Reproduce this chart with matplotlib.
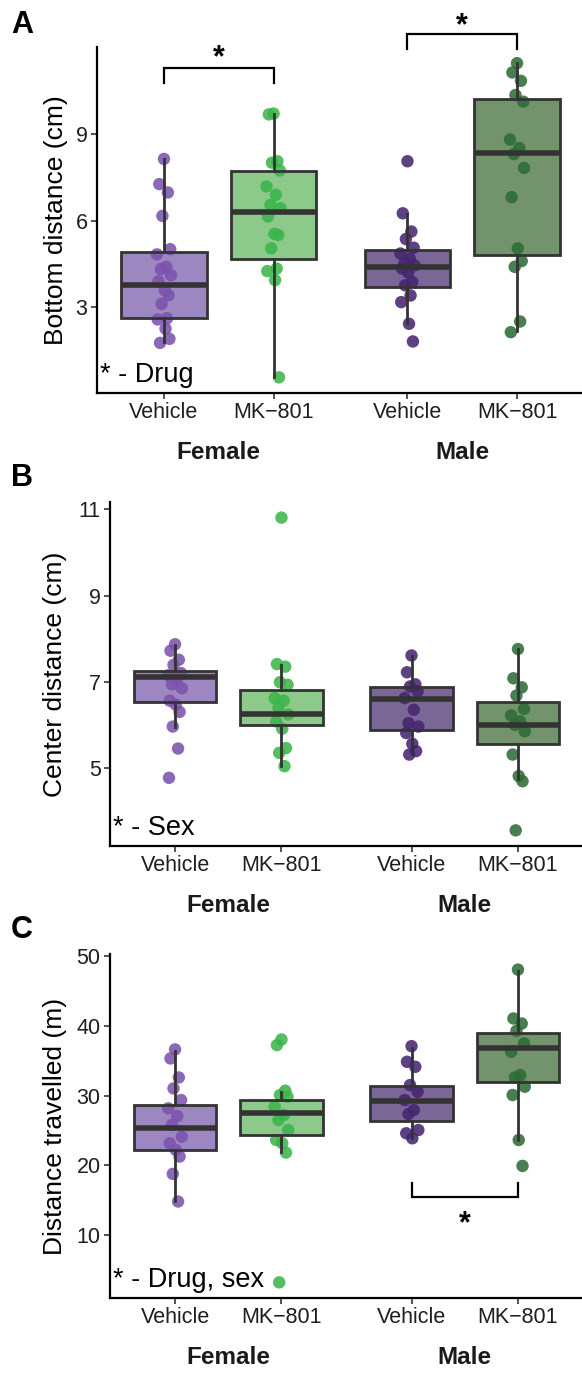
import matplotlib
matplotlib.use("Agg")
import matplotlib.pyplot as plt
import numpy as np

plt.rcParams['font.family'] = ['Liberation Sans', 'DejaVu Sans']

sexes = ["Female", "Male"]
drug_labels = ["Vehicle", "MK−801"]

# A: bottom distance (cm), groups: F-veh, F-MK, M-veh, M-MK
bottom_f_veh = [8.13, 7.26, 6.97, 6.16, 5.01, 4.83, 4.40, 4.32, 4.11, 3.90, 3.59,
                3.42, 3.12, 2.62, 2.58, 2.26, 1.91, 1.77]
bottom_f_mk = [9.70, 9.67, 8.05, 8.00, 7.73, 7.18, 6.89, 6.54, 6.43, 6.14, 5.54,
               5.50, 5.04, 4.34, 4.25, 3.94, 0.58]
bottom_m_veh = [8.05, 6.25, 5.62, 5.36, 5.06, 4.86, 4.69, 4.52, 4.45, 4.34, 4.20,
                3.88, 3.76, 3.41, 3.18, 2.43, 1.82]
bottom_m_mk = [11.44, 11.12, 10.83, 10.34, 10.11, 8.80, 8.51, 8.30, 7.82, 6.81,
               5.04, 4.60, 4.40, 2.51, 2.14]
# box stats: whisker low, q1, median, q3, whisker high
bottom_stats = [[1.79, 2.63, 3.76, 4.90, 8.13],
                [0.58, 4.67, 6.31, 7.70, 9.67],
                [2.45, 3.70, 4.39, 4.99, 6.22],
                [2.17, 4.81, 8.32, 10.19, 11.43]]

# B: center distance (cm)
center_f_veh = [7.87, 7.72, 7.51, 7.39, 7.20, 7.15, 7.08, 6.94, 6.85, 6.56, 6.47,
                6.30, 5.96, 5.45, 4.77]
center_f_mk = [10.81, 7.41, 7.35, 6.99, 6.93, 6.62, 6.56, 6.40, 6.24, 6.08, 5.91,
               5.46, 5.35, 5.04]
center_m_veh = [7.61, 7.22, 6.94, 6.89, 6.78, 6.62, 6.35, 6.04, 5.96, 5.81, 5.56,
                5.39, 5.31]
center_m_mk = [7.76, 7.08, 6.87, 6.68, 6.37, 6.22, 6.08, 6.00, 5.85, 5.31, 4.81,
               4.69, 3.55]
center_stats = [[5.96, 6.53, 7.11, 7.24, 7.85],
                [5.04, 5.99, 6.26, 6.81, 7.40],
                [5.33, 5.87, 6.61, 6.88, 7.59],
                [4.74, 5.56, 6.00, 6.52, 7.75]]

# C: distance travelled (m)
travel_f_veh = [36.64, 35.35, 32.62, 31.05, 29.38, 28.19, 27.09, 25.80, 24.13,
                23.18, 22.22, 21.27, 18.78, 14.82]
travel_f_mk = [38.07, 37.26, 30.72, 30.10, 29.86, 28.42, 27.23, 26.52, 25.08,
               23.65, 23.18, 21.84, 3.22]
travel_m_veh = [37.11, 34.87, 34.15, 31.53, 30.57, 29.38, 27.95, 27.38, 25.08,
                24.61, 23.89]
travel_m_mk = [48.09, 41.08, 40.36, 39.31, 37.49, 36.30, 32.96, 32.62, 31.29,
               30.10, 23.65, 19.93]
travel_stats = [[14.90, 22.22, 25.32, 28.66, 36.40],
                [21.98, 24.37, 27.47, 29.38, 30.60],
                [23.90, 26.37, 29.24, 31.38, 36.90],
                [23.65, 32.00, 36.87, 39.03, 47.90]]

PTS = ['#7B52AE', '#3AB54A', '#45256F', '#2D6B36']
FILLS = ['#9D87C1', '#8DC98B', '#7B6795', '#72936C']
EDGE = '#333333'
DODGE = 0.225
BOX_W = 0.35
JIT = np.array([0.0, -0.6, 0.5, -0.2, 0.8, -0.9, 0.3, -0.4, 0.9, -0.7, 0.1,
                0.6, -0.3, 0.4, -0.8, 0.2, 0.7, -0.5]) * 0.032
POS = [1 - DODGE, 1 + DODGE, 2 - DODGE, 2 + DODGE]


def draw_panel(ax, values, stats, yticks, ylabel, note, lab_x):
    allv = np.concatenate(values)
    pad = 0.05 * (allv.max() - allv.min())
    ax.set_ylim(allv.min() - pad, allv.max() + pad)
    ax.set_xlim(0.5, 2.5)
    for i, (v, st) in enumerate(zip(values, stats)):
        bs = dict(whislo=st[0], q1=st[1], med=st[2], q3=st[3], whishi=st[4], fliers=[])
        ax.bxp([bs], positions=[POS[i]], widths=BOX_W, patch_artist=True,
               showcaps=False, showfliers=False, manage_ticks=False, zorder=1,
               boxprops=dict(facecolor=FILLS[i], edgecolor='none', linewidth=0),
               whiskerprops=dict(linewidth=0), medianprops=dict(linewidth=0))
        x = POS[i] + JIT[:len(v)]
        ax.scatter(x, v, s=80, color=PTS[i], alpha=0.87, edgecolors='none', zorder=2)
        ax.bxp([bs], positions=[POS[i]], widths=BOX_W, patch_artist=True,
               showcaps=False, showfliers=False, manage_ticks=False, zorder=3,
               boxprops=dict(facecolor='none', edgecolor=EDGE, linewidth=2.0),
               whiskerprops=dict(color=EDGE, linewidth=2.0),
               medianprops=dict(color=EDGE, linewidth=4.0, solid_capstyle='butt'))
    ax.set_xticks(POS, drug_labels * 2)
    ax.set_yticks(yticks)
    for s in ['top', 'right']:
        ax.spines[s].set_visible(False)
    for s in ['left', 'bottom']:
        ax.spines[s].set_linewidth(1.6)
        ax.spines[s].set_color('black')
    ax.tick_params(length=4.3, width=1.2, color='#333333', labelsize=15.5,
                   labelcolor='#1e1e1e', pad=2.5)
    ax.set_ylabel(ylabel, fontsize=19, color='black')
    ax.yaxis.label.set_verticalalignment('center')
    ax.yaxis.set_label_coords(lab_x, 0.5)
    for k, sx in enumerate(sexes):
        ax.annotate(sx, xy=(k + 1, 0), xycoords=('data', 'axes fraction'),
                    xytext=(0, -43), textcoords='offset points', ha='center',
                    va='center', fontsize=17.5, fontweight='bold', color='#1a1a1a')
    ax.annotate(note, xy=(0, 0), xycoords='axes fraction', xytext=(2.2, 8),
                textcoords='offset points', ha='left', va='baseline', fontsize=19.5)


def bracket(ax, x0, x1, y_bar, y_end, y_star):
    ax.plot([x0, x0, x1, x1], [y_end, y_bar, y_bar, y_end], color='black',
            lw=1.6, clip_on=False, solid_joinstyle='miter', zorder=4)
    ax.annotate('*', xy=((x0 + x1) / 2, y_star), xytext=(0, -12.5),
                textcoords='offset points', ha='center', va='baseline',
                fontsize=22, fontweight='bold', annotation_clip=False)


fig = plt.figure(figsize=(5.82, 13.73), dpi=100)
W, H = 582, 1373
axA = fig.add_axes([97 / W, 1 - 393 / H, 487 / W, 345.5 / H])
axB = fig.add_axes([110 / W, 1 - 846 / H, 473 / W, 344 / H])
axC = fig.add_axes([110 / W, 1 - 1298 / H, 473 / W, 344 / H])

draw_panel(axA, [bottom_f_veh, bottom_f_mk, bottom_m_veh, bottom_m_mk], bottom_stats,
           [3, 6, 9], "Bottom distance (cm)", "* - Drug", (56 - 97) / 487)
draw_panel(axB, [center_f_veh, center_f_mk, center_m_veh, center_m_mk], center_stats,
           [5, 7, 9, 11], "Center distance (cm)", "* - Sex", (55 - 110) / 473)
draw_panel(axC, [travel_f_veh, travel_f_mk, travel_m_veh, travel_m_mk], travel_stats,
           [10, 20, 30, 40, 50], "Distance travelled (m)", "* - Drug, sex", (55 - 110) / 473)

bracket(axA, POS[0], POS[1], 11.27, 10.75, 11.93)
bracket(axA, POS[2], POS[3], 12.45, 11.93, 13.05)
bracket(axC, POS[2], POS[3], 15.44, 17.54, 12.9)

for lab, yb in [("A", 33), ("B", 486), ("C", 938)]:
    fig.text(11 / W, 1 - yb / H, lab, fontsize=22, fontweight='bold', va='baseline')

fig.savefig("out.png", dpi=100)
